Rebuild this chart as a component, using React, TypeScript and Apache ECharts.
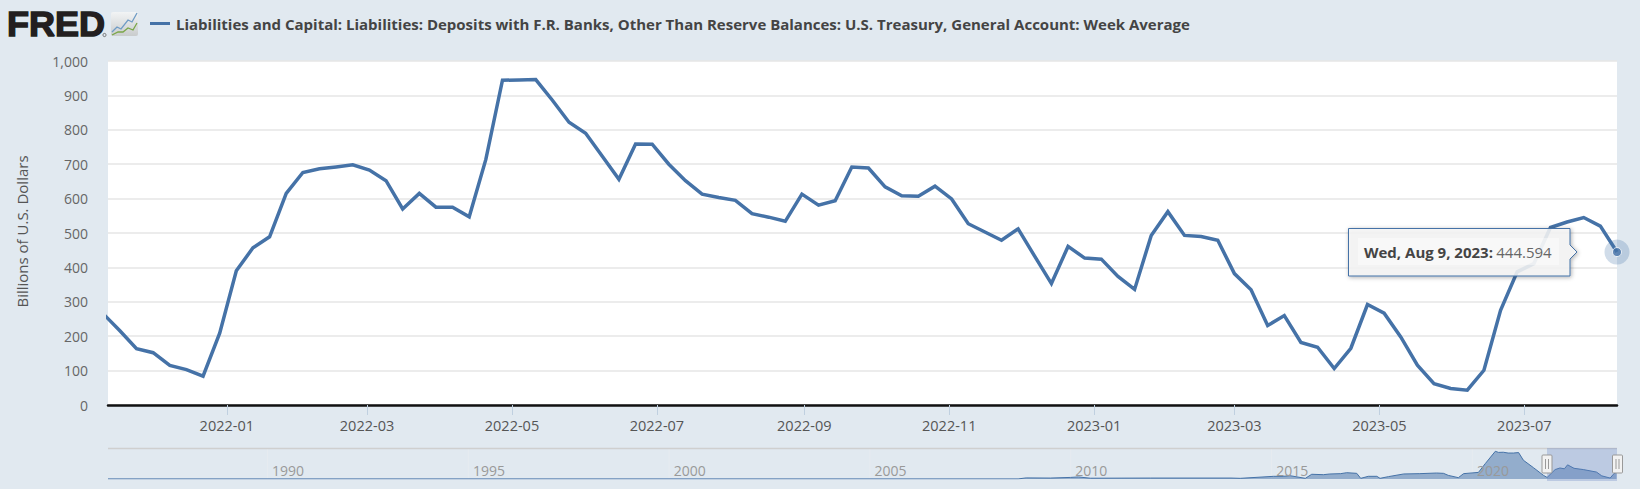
import React, { useEffect, useRef } from "react";
import * as echarts from "echarts";

const seriesName = "Liabilities and Capital: Liabilities: Deposits with F.R. Banks, Other Than Reserve Balances: U.S. Treasury, General Account: Week Average";
const yAxisTitle = "Billions of U.S. Dollars";
const tooltipDate = "Wed, Aug 9, 2023:";
const tooltipValue = "444.594";

const weekDates = [
  "2021-11-10","2021-11-17","2021-11-24","2021-12-01","2021-12-08","2021-12-15","2021-12-22","2021-12-29",
  "2022-01-05","2022-01-12","2022-01-19","2022-01-26","2022-02-02","2022-02-09","2022-02-16","2022-02-23",
  "2022-03-02","2022-03-09","2022-03-16","2022-03-23","2022-03-30","2022-04-06","2022-04-13","2022-04-20","2022-04-27",
  "2022-05-04","2022-05-11","2022-05-18","2022-05-25","2022-06-01","2022-06-08","2022-06-15","2022-06-22","2022-06-29",
  "2022-07-06","2022-07-13","2022-07-20","2022-07-27","2022-08-03","2022-08-10","2022-08-17","2022-08-24","2022-08-31",
  "2022-09-07","2022-09-14","2022-09-21","2022-09-28","2022-10-05","2022-10-12","2022-10-19","2022-10-26",
  "2022-11-02","2022-11-09","2022-11-16","2022-11-23","2022-11-30","2022-12-07","2022-12-14","2022-12-21","2022-12-28",
  "2023-01-04","2023-01-11","2023-01-18","2023-01-25","2023-02-01","2023-02-08","2023-02-15","2023-02-22",
  "2023-03-01","2023-03-08","2023-03-15","2023-03-22","2023-03-29","2023-04-05","2023-04-12","2023-04-19","2023-04-26",
  "2023-05-03","2023-05-10","2023-05-17","2023-05-24","2023-05-31","2023-06-07","2023-06-14","2023-06-21","2023-06-28",
  "2023-07-05","2023-07-12","2023-07-19","2023-07-26","2023-08-02","2023-08-09",
];
const weekValues = [
  265, 216, 164, 152, 115, 103, 84, 209,
  390, 457, 489, 615, 676, 687, 692, 698,
  683, 652, 570, 615, 575, 575, 547, 714, 944,
  945, 946, 886, 822, 790, 723, 656, 759, 758,
  700, 652, 613, 603, 595, 556, 546, 534, 613,
  581, 594, 692, 689, 634, 608, 607, 636,
  599, 527, 503, 479, 512, 432, 353, 461, 427,
  424, 374, 336, 493, 562, 493, 490, 479,
  382, 335, 231, 260, 182, 168, 106, 165, 292,
  267, 198, 116, 62, 48, 43, 101, 275, 387,
  411, 516, 532, 545, 520, 444.594,
];
const monthTicks = [
  "2022-01-01","2022-03-01","2022-05-01","2022-07-01","2022-09-01","2022-11-01",
  "2023-01-01","2023-03-01","2023-05-01","2023-07-01",
];
const navYears = [
  1986.04, 2008.7, 2008.9, 2009.5, 2010, 2010.2, 2010.5, 2012, 2014, 2014.23, 2015.06, 2015.3, 2015.47, 2015.85, 2016.01,
  2016.3, 2016.46, 2016.73, 2016.88, 2017.13, 2017.23, 2017.42, 2017.63, 2017.71, 2017.92, 2018.3, 2018.7,
  2019.12, 2019.29, 2019.41, 2019.66, 2019.79, 2020.16, 2020.33, 2020.58, 2020.66, 2020.78, 2020.9, 2021.03,
  2021.16, 2021.28, 2021.53, 2021.78, 2021.87, 2022.07, 2022.19, 2022.3, 2022.38, 2022.54, 2022.77, 2023.1,
  2023.23, 2023.44, 2023.52, 2023.6,
];
const navValues = [
  5, 5, 70, 60, 100, 130, 50, 60, 60, 42, 170, 170, 210, 42, 300,
  275, 318, 340, 400, 360, 42, 170, 170, 42, 150, 320, 340,
  380, 360, 230, 85, 340, 420, 975, 1760, 1690, 1700, 1650, 1650,
  1680, 1190, 720, 230, 100, 600, 700, 650, 900, 680, 600, 440,
  200, 60, 300, 444,
];
const navTicks = [1990, 1995, 2000, 2005, 2010, 2015, 2020];

const FONT = "'Open Sans', sans-serif";
const BLUE = "#4572a7";
const ts = (d: string) => Date.parse(d + "T00:00:00Z");

function handle(x: number) {
  const y0 = 455, h = 18;
  return [
    { type: "rect", z: 30, shape: { x: x - 5, y: y0, width: 10, height: h, r: 1 }, style: { fill: "#f2f2f2", stroke: "#999", lineWidth: 1 } },
    { type: "line", z: 31, shape: { x1: x - 1.5, y1: y0 + 4, x2: x - 1.5, y2: y0 + h - 4 }, style: { stroke: "#999", lineWidth: 1 } },
    { type: "line", z: 31, shape: { x1: x + 1.5, y1: y0 + 4, x2: x + 1.5, y2: y0 + h - 4 }, style: { stroke: "#999", lineWidth: 1 } },
  ];
}

export default function App() {
  const ref = useRef<HTMLDivElement>(null);
  useEffect(() => {
    const chart = echarts.init(ref.current!, null, { renderer: "svg" });
    const points = weekDates.map((d, i) => [ts(d), weekValues[i]]);
    const last = points[points.length - 1];
    chart.setOption({
      animation: false,
      backgroundColor: "#e1e9f0",
      textStyle: { fontFamily: FONT },
      title: {
        text: seriesName,
        left: 171,
        top: 9,
        textStyle: { fontFamily: FONT, fontSize: 15, fontWeight: 700, color: "#444", lineHeight: 20 },
      },
      grid: [
        { left: 108, top: 61, width: 1509, height: 344, backgroundColor: "#fff", show: true, borderWidth: 0 },
        { left: 108, top: 448, width: 1509, height: 31, show: false },
      ],
      xAxis: [
        {
          type: "value",
          gridIndex: 0,
          min: ts("2021-11-12"),
          max: last[0],
          axisLine: { show: true, onZero: false, lineStyle: { color: "#111", width: 2.5 } },
          axisTick: { show: true, length: 10, customValues: monthTicks.map(ts), lineStyle: { color: "#c0d0e0", width: 1 } },
          axisLabel: {
            customValues: monthTicks.map(ts),
            formatter: (v: number) => new Date(v).toISOString().slice(0, 7),
            color: "#555",
            fontSize: 14.5,
            margin: 13,
            fontFamily: FONT,
          },
          splitLine: { show: false },
        },
        {
          type: "value",
          gridIndex: 1,
          min: 1986.04,
          max: 2023.61,
          axisLine: { show: false },
          axisTick: { show: false, customValues: navTicks },
          splitLine: { show: false },
          axisLabel: {
            inside: true,
            customValues: navTicks,
            formatter: (v: number) => String(v),
            align: "left",
            color: "#999",
            fontSize: 14,
            margin: 2,
            padding: [0, 0, 0, 5],
            fontFamily: FONT,
          },
          z: 12,
        },
      ],
      yAxis: [
        {
          type: "value",
          gridIndex: 0,
          min: 0,
          max: 1000,
          interval: 100,
          name: yAxisTitle,
          nameLocation: "middle",
          nameGap: 79,
          nameTextStyle: { color: "#555", fontSize: 15, fontFamily: FONT, padding: [0, 0, 0, 3] },
          axisLine: { show: false },
          axisTick: { show: false },
          axisLabel: {
            color: "#666",
            fontSize: 14,
            margin: 20,
            padding: [0, 0, 6, 0],
            fontFamily: FONT,
            formatter: (v: number) => v.toLocaleString("en-US"),
          },
          splitLine: { show: true, lineStyle: { color: "#e6e6e6", width: 1.5 } },
        },
        {
          type: "value",
          gridIndex: 1,
          min: 0,
          max: 1970,
          axisLine: { show: false },
          axisTick: { show: false },
          axisLabel: { show: false },
          splitLine: { show: false },
        },
      ],
      series: [
        {
          type: "line",
          xAxisIndex: 0,
          yAxisIndex: 0,
          data: points,
          showSymbol: false,
          symbol: "none",
          lineStyle: { color: BLUE, width: 3.5, join: "miter" },
          z: 3,
        },
        {
          type: "scatter",
          xAxisIndex: 0,
          yAxisIndex: 0,
          data: [last],
          clip: false,
          symbolSize: 25,
          itemStyle: { color: BLUE, opacity: 0.25 },
          silent: true,
          z: 4,
        },
        {
          type: "scatter",
          xAxisIndex: 0,
          yAxisIndex: 0,
          data: [last],
          clip: false,
          symbolSize: 9,
          itemStyle: { color: BLUE, borderColor: "#fff", borderWidth: 1 },
          silent: true,
          z: 5,
        },
        {
          type: "line",
          xAxisIndex: 1,
          yAxisIndex: 1,
          data: navYears.map((y, i) => [y, navValues[i]]),
          symbol: "none",
          lineStyle: { color: BLUE, width: 1 },
          areaStyle: { color: BLUE, opacity: 0.5 },
          z: 3,
        },
      ],
      graphic: [
        { type: "text", z: 20, x: 7, y: 7, scaleX: 1.03, style: { text: "FRED", fontFamily: "'Liberation Sans', Arial, sans-serif", fontWeight: 900, fontSize: 35, fill: "#231f20", stroke: "#231f20", lineWidth: 1.4 } },
        { type: "circle", z: 20, shape: { cx: 104.5, cy: 35, r: 1.6 }, style: { fill: "none", stroke: "#555", lineWidth: 0.8 } },
        { type: "rect", z: 20, shape: { x: 111, y: 12, width: 27, height: 24, r: 2 }, style: { fill: new echarts.graphic.LinearGradient(0, 0, 0, 1, [{ offset: 0, color: "#f2f4f5" }, { offset: 1, color: "#c9cccd" }]) } },
        { type: "polyline", z: 21, shape: { points: [[112, 32], [117, 27], [121, 29], [128, 20], [132, 22], [137, 13]] }, style: { stroke: "#6e9bc5", lineWidth: 1.3, fill: "none" } },
        { type: "polyline", z: 21, shape: { points: [[112, 35], [118, 32], [123, 32], [128, 28], [133, 30], [137, 23]] }, style: { stroke: "#7aa648", lineWidth: 1.3, fill: "none" } },
        { type: "line", z: 20, shape: { x1: 150, y1: 23.5, x2: 170, y2: 23.5 }, style: { stroke: BLUE, lineWidth: 3 } },
        { type: "line", z: 2, shape: { x1: 108, y1: 448.5, x2: 1617, y2: 448.5 }, style: { stroke: "#cfcfcf", lineWidth: 1.5 } },
        ...navTicks.map((_, i) => ({ type: "line", z: 1, shape: { x1: 267.5 + i * 200.8, y1: 449, x2: 267.5 + i * 200.8, y2: 479 }, style: { stroke: "#e6ebf0", lineWidth: 1 } })),
        { type: "rect", z: 15, shape: { x: 1547, y: 448, width: 70, height: 33 }, style: { fill: "rgba(102,133,194,0.3)" } },
        ...handle(1547),
        ...handle(1617.5),
        {
          type: "polygon",
          z: 40,
          shape: { points: [[1348.5, 228.5], [1570, 228.5], [1570, 245], [1577, 252], [1570, 259], [1570, 276], [1348.5, 276]] },
          style: { fill: "rgba(247,247,247,0.85)", stroke: BLUE, lineWidth: 1, shadowBlur: 4, shadowOffsetX: 1, shadowOffsetY: 1, shadowColor: "rgba(0,0,0,0.35)" },
        },
        { type: "rect", z: 41, shape: { x: 1358, y: 238, width: 201, height: 27 }, style: { fill: "rgba(255,255,255,0.4)" } },
        {
          type: "text",
          z: 42,
          x: 1364,
          y: 244,
          style: {
            text: `{b|${tooltipDate}} {v|${tooltipValue}}`,
            rich: {
              b: { fontFamily: FONT, fontSize: 15, fontWeight: 700, fill: "#444" },
              v: { fontFamily: FONT, fontSize: 15, fill: "#666" },
            },
          },
        },
      ],
    });
    return () => chart.dispose();
  }, []);
  return <div ref={ref} style={{ position: "absolute", left: 0, top: 0, width: 1640, height: 489 }} />;
}
